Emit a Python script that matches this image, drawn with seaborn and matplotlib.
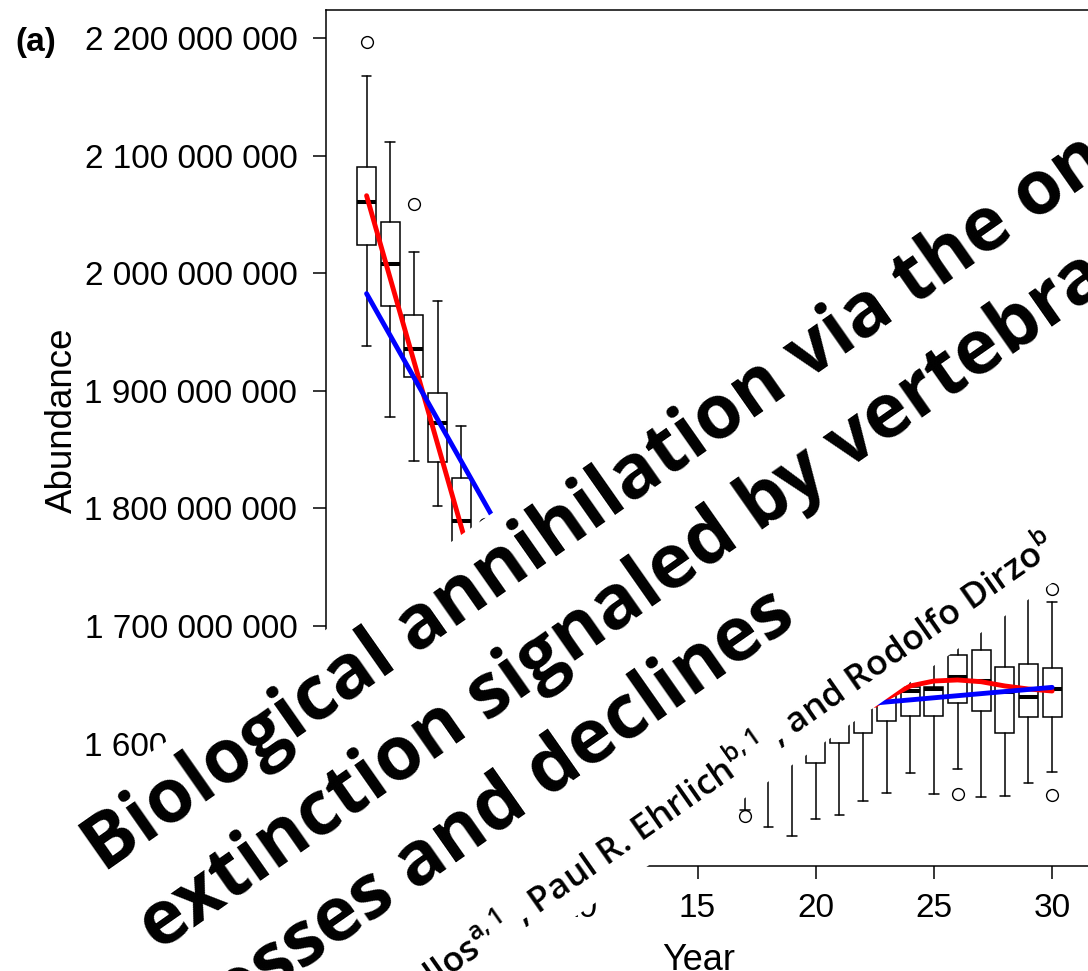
import numpy as np
import matplotlib
matplotlib.use("Agg")
import matplotlib.pyplot as plt
import seaborn as sns
from matplotlib.ticker import FuncFormatter, FixedLocator
from matplotlib.transforms import IdentityTransform

# ---------------------------------------------------------------------------
# Yearly abundance summaries (millions of individuals)
# ---------------------------------------------------------------------------
years        = [1, 2, 3, 4, 5, 6, 17, 18, 19, 20, 21, 22, 23, 24, 25, 26, 27, 28, 29, 30]
whisker_low  = [1938.4, 1877.9, 1840.6, 1801.7, 1720.0, 1675.0, 1543.5, 1529.3, 1521.7, 1535.9,
                1539.0, 1551.2, 1557.7, 1575.3, 1556.9, 1578.1, 1554.9, 1555.4, 1566.8, 1575.9]
quartile_1   = [2024.3, 1971.8, 1911.3, 1839.6, 1762.0, 1712.0, 1572.0, 1580.0, 1592.0, 1583.8,
                1600.3, 1609.3, 1619.2, 1623.7, 1623.5, 1634.3, 1627.7, 1608.8, 1622.4, 1622.9]
medians      = [2060.7, 2008.2, 1935.3, 1873.0, 1789.0, 1728.0, 1592.0, 1600.0, 1606.0, 1606.0,
                1618.0, 1630.0, 1643.0, 1645.0, 1646.0, 1656.4, 1653.5, 1644.0, 1639.9, 1646.4]
quartile_3   = [2090.2, 2043.4, 1964.5, 1898.2, 1825.9, 1745.0, 1612.0, 1620.0, 1626.0, 1625.0,
                1636.0, 1645.0, 1652.0, 1648.4, 1648.4, 1675.1, 1679.6, 1664.9, 1667.4, 1664.6]
whisker_high = [2167.6, 2111.7, 2018.2, 1976.4, 1870.1, 1768.0, 1650.0, 1660.0, 1665.0, 1668.0,
                1672.0, 1676.0, 1678.0, 1688.0, 1696.0, 1692.0, 1702.0, 1718.0, 1730.0, 1720.7]

outlier_years  = [1, 3, 6, 17, 26, 30, 30]
outlier_values = [2196.5, 2059.2, 1787.0, 1538.7, 1557.1, 1556.3, 1731.2]

# Smoothed (red) and linear (blue) trends for the early and late periods
early_smooth_years  = [1, 2, 3, 4, 5, 6]
early_smooth_values = [2065.9, 1995.6, 1925.3, 1855.0, 1784.7, 1714.4]
early_linear_years  = [1, 7]
early_linear_values = [1982.6, 1769.0]
late_smooth_years   = [22.5, 23, 24, 25, 26, 27, 28, 29, 30]
late_smooth_values  = [1632.5, 1638.5, 1649.0, 1653.2, 1654.1, 1652.6, 1649.0, 1646.4, 1644.7]
late_linear_years   = [22.5, 30]
late_linear_values  = [1634.5, 1647.8]

y_ticks = [1600, 1700, 1800, 1900, 2000, 2100, 2200]
x_ticks = [5, 10, 15, 20, 25, 30]

MILLION = 1e6

TITLE = ("Biological annihilation via the ongoing sixth mass\n"
         "extinction signaled by vertebrate population\n"
         "losses and declines")
# leading blank line lets the white backing reach up under the title block
AUTHORS = ("\n" + r"Gerardo Ceballos$^{\mathrm{a,1}}$ , Paul R. Ehrlich$^{\mathrm{b,1}}$ , "
           r"and Rodolfo Dirzo$^{\mathrm{b}}$")

# ---------------------------------------------------------------------------
# Style
# ---------------------------------------------------------------------------
sns.set_style("ticks")
plt.rcParams["font.family"] = ["Liberation Sans", "DejaVu Sans"]
plt.rcParams["mathtext.fontset"] = "custom"
plt.rcParams["mathtext.rm"] = "Open Sans:semibold"
plt.rcParams["axes.linewidth"] = 1.1
plt.rcParams["axes.edgecolor"] = "black"
plt.rcParams["text.color"] = "black"
plt.rcParams["axes.labelcolor"] = "black"
plt.rcParams["xtick.color"] = "black"
plt.rcParams["ytick.color"] = "black"

W, H = 1088, 971
fig = plt.figure(figsize=(W / 100, H / 100), dpi=100)
fig.patch.set_facecolor("white")

# axes box in pixels: left 326.4, right 1092.3, top 10, bottom 866
ax = fig.add_axes([326.4 / W, (H - 866) / H, (1092.3 - 326.4) / W, 856 / H])
ax.set_facecolor("white")

stats = []
for i, yr in enumerate(years):
    fl = [v * MILLION for y, v in zip(outlier_years, outlier_values) if y == yr]
    stats.append(dict(whislo=whisker_low[i] * MILLION, q1=quartile_1[i] * MILLION,
                      med=medians[i] * MILLION, q3=quartile_3[i] * MILLION,
                      whishi=whisker_high[i] * MILLION, fliers=fl))

ax.bxp(stats, positions=years, widths=0.8, capwidths=0.4, patch_artist=True,
       manage_ticks=False,
       boxprops=dict(facecolor="white", edgecolor="black", linewidth=1.1),
       whiskerprops=dict(color="black", linewidth=1.1),
       capprops=dict(color="black", linewidth=1.1),
       medianprops=dict(color="black", linewidth=2.9, solid_capstyle="butt"),
       flierprops=dict(marker="o", markerfacecolor="none", markeredgecolor="black",
                       markersize=8.5, markeredgewidth=1.0))

for xs, ys, col in [(early_smooth_years, early_smooth_values, "red"),
                    (early_linear_years, early_linear_values, "blue"),
                    (late_smooth_years, late_smooth_values, "red"),
                    (late_linear_years, late_linear_values, "blue")]:
    sns.lineplot(x=xs, y=np.array(ys) * MILLION, color=col, linewidth=3.5,
                 ax=ax, zorder=5, legend=False)

ax.set_xlim(-0.7, 31.7)
ax.set_ylim(1495.9 * MILLION, 2223.8 * MILLION)
ax.xaxis.set_major_locator(FixedLocator(x_ticks))
ax.yaxis.set_major_locator(FixedLocator([v * MILLION for v in y_ticks]))
ax.yaxis.set_major_formatter(FuncFormatter(lambda v, p: f"{v:,.0f}".replace(",", " ")))
ax.xaxis.set_major_formatter(FuncFormatter(lambda v, p: f"{v:.0f}"))
ax.tick_params(axis="y", direction="out", length=9.4, width=1.1, pad=11.5,
               labelsize=24, colors="black")
ax.tick_params(axis="x", direction="out", length=9.4, width=1.1, pad=10,
               labelsize=24, colors="black")
for s in ax.spines.values():
    s.set_visible(True)
    s.set_linewidth(1.1)
    s.set_color("black")

ax.set_xlabel("Year", fontsize=26, va="top", color="black")
ax.xaxis.set_label_coords(0.4865, -0.09)
ax.set_ylabel("Abundance", fontsize=26.5, va="center", color="black")
ax.yaxis.set_label_coords((62 - 326.4) / 765.9, 0.521)

fig.text(15 / W, 1 - 51 / H, "(a)", fontsize=24, fontweight="bold",
         ha="left", va="baseline", color="black")

# Rotated article header with an opaque backing (authors drawn first, title on top)
fig.text(1053.8, H - 545.1, AUTHORS, transform=IdentityTransform(),
         rotation=35, rotation_mode="anchor", ha="right", va="baseline",
         family=["Open Sans", "DejaVu Sans"], fontweight="semibold", fontsize=25.5,
         color="black", zorder=10,
         bbox=dict(boxstyle="square,pad=0.43", fc="white", ec="none"))
fig.text(70.5, H - 826.8, TITLE, transform=IdentityTransform(),
         rotation=35, rotation_mode="anchor", ha="left", va="top",
         family=["Open Sans", "DejaVu Sans"], fontweight="bold", fontsize=54,
         color="black", linespacing=1.38, zorder=11,
         bbox=dict(boxstyle="square,pad=0.2", fc="white", ec="none"))

fig.savefig("out.png", dpi=100, facecolor="white")
